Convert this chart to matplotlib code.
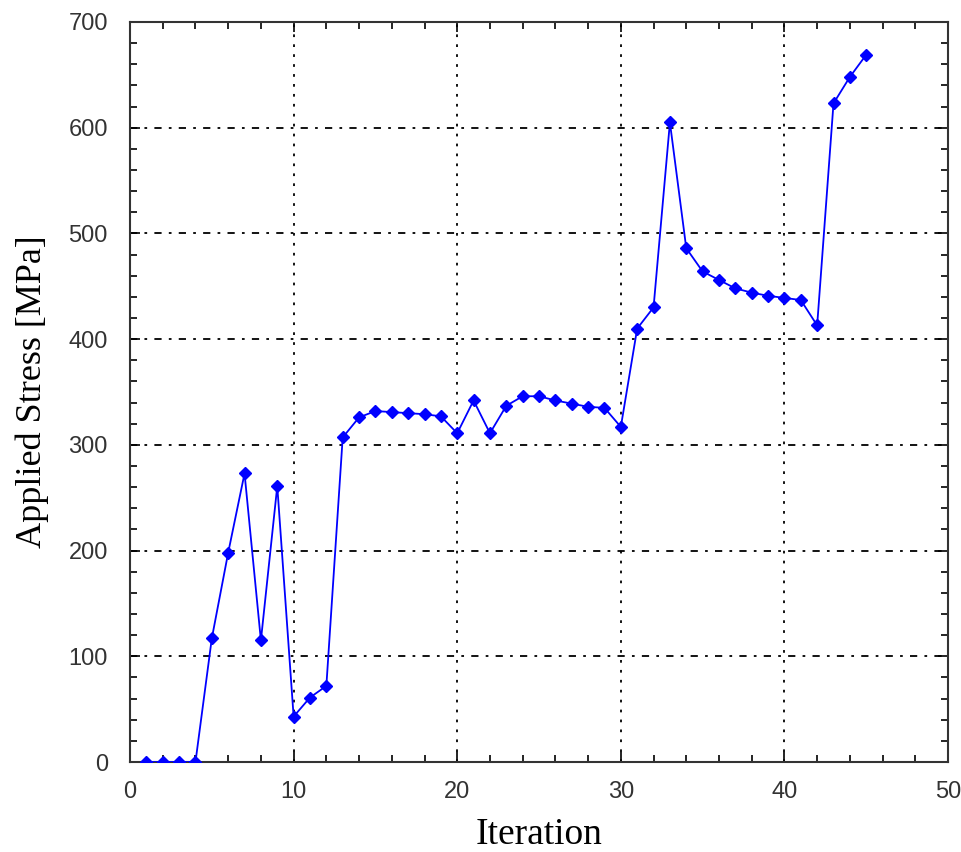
import matplotlib
matplotlib.use("Agg")
import matplotlib.pyplot as plt
from matplotlib.ticker import MultipleLocator

iteration = list(range(1, 46))
stress = [0, 0, 0, 0, 117, 198, 273, 115, 261, 43,
          61, 72, 307, 326, 332, 331, 330, 329, 327, 311,
          342, 311, 337, 346, 346, 342, 339, 336, 335, 317,
          410, 430, 605, 486, 464, 456, 448, 444, 441, 439,
          437, 413, 623, 648, 669]

fig = plt.figure(figsize=(9.61, 8.52), dpi=100)
ax = fig.add_axes([0.1353, 0.1056, 0.8512, 0.8686])

ax.plot(iteration, stress, color="#0000ff", linewidth=1.3,
        marker="D", markersize=6, markerfacecolor="#0000ff",
        markeredgecolor="#0000ff", zorder=3)

ax.set_xlim(0, 50)
ax.set_ylim(0, 700)
ax.xaxis.set_major_locator(MultipleLocator(10))
ax.xaxis.set_minor_locator(MultipleLocator(2))
ax.yaxis.set_major_locator(MultipleLocator(100))
ax.yaxis.set_minor_locator(MultipleLocator(20))

ax.tick_params(which="both", direction="in", top=True, right=True,
               labelsize=17, width=1.2)
ax.tick_params(axis="x", pad=14)
ax.tick_params(axis="y", pad=16)
ax.tick_params(which="major", length=7)
ax.tick_params(which="minor", length=5)
for lbl in ax.get_xticklabels() + ax.get_yticklabels():
    lbl.set_fontfamily("Liberation Sans")
    lbl.set_color("#333333")

for sp in ax.spines.values():
    sp.set_linewidth(1.5)
    sp.set_color("#333333")

ax.xaxis.grid(True, which="major", linestyle=(0, (1.5, 4)), color="black", linewidth=1.3)
ax.yaxis.grid(True, which="major", linestyle=(0, (4, 4, 1.5, 4)), color="black", linewidth=1.3)

ax.set_xlabel("Iteration", fontsize=27, family="Liberation Serif", labelpad=10)
ax.set_ylabel("Applied Stress [MPa]", fontsize=26, family="Liberation Serif", labelpad=14)

fig.savefig("out.png", dpi=100)
